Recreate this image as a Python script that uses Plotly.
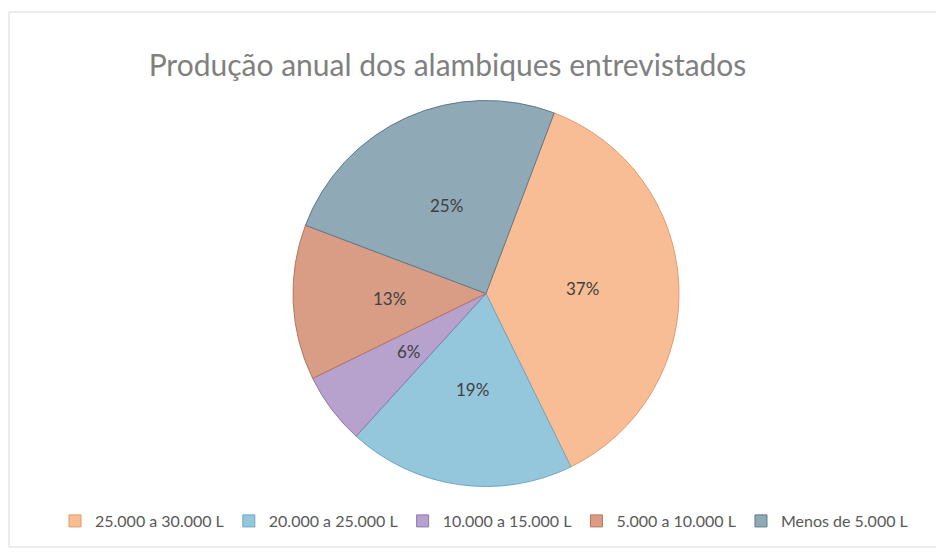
import numpy as np
import plotly.graph_objects as go

categories = ["25.000 a 30.000 L", "20.000 a 25.000 L", "10.000 a 15.000 L",
              "5.000 a 10.000 L", "Menos de 5.000 L"]
values = [37, 19, 6, 13, 25]
colors = ["#F8BD95", "#94C6DC", "#B6A2CD", "#D99C84", "#8FA9B6"]
line_colors = ["#E49A6A", "#6FA6C0", "#8C78A8", "#B8755E", "#5F7A88"]

W, H = 936, 552
cx, cy, r = 486, 293.5, 193
rotation = 20.7

fig = go.Figure(go.Pie(
    labels=categories,
    values=values,
    sort=False,
    direction="clockwise",
    rotation=rotation,
    marker=dict(colors=colors, line=dict(color=line_colors, width=1)),
    textinfo="none",
    domain=dict(x=[(cx - r) / W, (cx + r) / W], y=[(H - cy - r) / H, (H - cy + r) / H]),
    hoverinfo="label+percent",
))

# percentage labels at half radius, on each slice's mid-angle (derived from the values)
vals = np.array(values, dtype=float)
frac = vals / vals.sum()
mid = rotation + 360 * (np.cumsum(frac) - frac / 2)
annotations = []
for v, f, a in zip(values, frac, np.radians(mid)):
    x = cx + 0.5 * r * np.sin(a)
    y = cy - 0.5 * r * np.cos(a)
    annotations.append(dict(x=x / W, y=1 - y / H, xref="paper", yref="paper",
                            text=f"{round(f * 100)}%", showarrow=False,
                            font=dict(family="Lato", size=17, color="#404040"),
                            xanchor="center", yanchor="middle"))

fig.update_layout(
    width=W, height=H,
    margin=dict(l=0, r=0, t=0, b=0),
    paper_bgcolor="white",
    plot_bgcolor="white",
    title=dict(text="Produção anual dos alambiques entrevistados",
               x=447.5 / W, xanchor="center", y=1 - 65 / H, yanchor="middle",
               font=dict(family="Lato", size=30, color="#808080")),
    legend=dict(orientation="h", x=484 / W, xanchor="center", y=1 - 521 / H, yanchor="middle",
                font=dict(family="Lato", size=16, color="#595959"),
                itemwidth=30, tracegroupgap=0, traceorder="normal"),
    annotations=annotations,
    shapes=[dict(type="rect", xref="paper", yref="paper",
                 x0=9 / W, x1=1.02, y0=1 - 547 / H, y1=1 - 12 / H,
                 line=dict(color="#D9D9D9", width=1))],
)

fig.write_html("out.html", config={"displayModeBar": False},
               post_script="document.body.style.margin='0';")
